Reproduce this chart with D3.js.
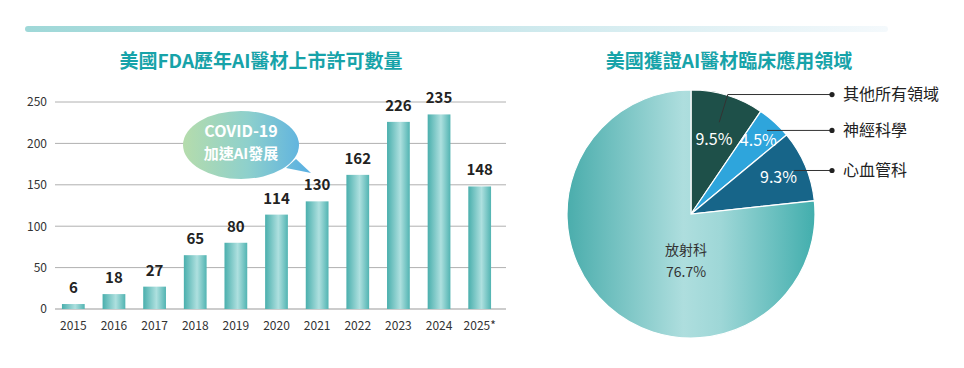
<!DOCTYPE html>
<html>
<head>
<meta charset="utf-8" />
<title>美國FDA AI醫材</title>
<script src="https://d3js.org/d3.v7.min.js"></script>
<style>
    body { margin: 0; background: #fff; }
    svg text { font-family: "Noto Sans CJK TC", "Noto Sans", sans-serif; }
</style>
</head>
<body>
<svg id="chart" width="964" height="368"></svg>
<script>
// bar chart data
var years = ["2015", "2016", "2017", "2018", "2019", "2020", "2021", "2022", "2023", "2024", "2025*"];
var approvals = [6, 18, 27, 65, 80, 114, 130, 162, 226, 235, 148];
var yTicks = [0, 50, 100, 150, 200, 250];

// pie data
var fields = ["其他所有領域", "神經科學", "心血管科", "放射科"];
var shares = [9.5, 4.5, 9.3, 76.7];
var pieColors = ["#1e5049", "#2ea5dc", "#176589", "url(#radGrad)"];

var svg = d3.select("#chart");
var defs = svg.append("defs");

function addGrad(id, stops, attrs) {
    var g = defs.append("linearGradient").attr("id", id);
    for (var k in attrs) g.attr(k, attrs[k]);
    stops.forEach(function(s) {
        g.append("stop").attr("offset", s[0]).attr("stop-color", s[1]);
    });
}

var cx = 691, cy = 214, radius = 124;

addGrad("topGrad", [[0, "#9fd8d8"], [0.5, "#c6e6ea"], [1, "#f4f9fc"]], {});
addGrad("barGrad", [[0, "#4aafad"], [0.58, "#aee0df"], [1, "#52b4b2"]], {});
addGrad("bubbleGrad", [[0, "#b5dcac"], [0.5, "#8ed0cc"], [1, "#57aee3"]],
    {gradientUnits: "userSpaceOnUse", x1: 183, x2: 312, y1: 0, y2: 0});
// pie group is translated to the centre, so the gradient runs -r..r
addGrad("radGrad", [[0, "#4aadac"], [0.47, "#aedede"], [0.62, "#9ed7d7"], [1, "#42aead"]],
    {gradientUnits: "userSpaceOnUse", x1: -radius, x2: radius, y1: 0, y2: 0});

// top decorative strip
svg.append("rect")
    .attr("x", 25).attr("y", 26).attr("width", 863).attr("height", 6)
    .attr("rx", 3)
    .attr("fill", "url(#topGrad)");

// titles
svg.append("text")
    .attr("x", 261).attr("y", 61).attr("dy", "0.35em")
    .attr("text-anchor", "middle")
    .attr("fill", "#17a3a9").attr("font-size", 19).attr("font-weight", "bold")
    .text("美國FDA歷年AI醫材上市許可數量");

svg.append("text")
    .attr("x", 729).attr("y", 61).attr("dy", "0.35em")
    .attr("text-anchor", "middle")
    .attr("fill", "#17a3a9").attr("font-size", 19).attr("font-weight", "bold")
    .text("美國獲證AI醫材臨床應用領域");

// ---------- bar chart ----------
var x = d3.scaleBand()
    .domain(years)
    .range([53, 500])
    .paddingInner(0.44)
    .paddingOuter(0.22);

var y = d3.scaleLinear()
    .domain([0, 250])
    .range([309, 102]);

var grid = svg.append("g");
grid.selectAll("line")
    .data(yTicks)
    .enter()
    .append("line")
    .attr("x1", 55).attr("x2", 506)
    .attr("y1", function(d) { return y(d); })
    .attr("y2", function(d) { return y(d); })
    .attr("stroke", function(d) { return d === 0 ? "#999" : "#b0b0b0"; })
    .attr("stroke-width", 1);

var yAxis = d3.axisLeft(y).tickValues(yTicks).tickSize(0).tickPadding(0);
var yg = svg.append("g").attr("transform", "translate(47,0)").call(yAxis);
yg.select(".domain").remove();
yg.selectAll("text").attr("font-size", 12).attr("fill", "#333");

var xAxis = d3.axisBottom(x).tickSize(0).tickPadding(0);
var xg = svg.append("g").attr("transform", "translate(0,321)").call(xAxis);
xg.select(".domain").remove();
xg.selectAll("text").attr("font-size", 12).attr("fill", "#333");

svg.selectAll(".bar")
    .data(approvals)
    .enter()
    .append("rect")
    .attr("class", "bar")
    .attr("x", function(d, i) { return x(years[i]); })
    .attr("width", x.bandwidth())
    .attr("y", function(d) { return y(d); })
    .attr("height", function(d) { return y(0) - y(d); })
    .attr("fill", "url(#barGrad)");

svg.selectAll(".val")
    .data(approvals)
    .enter()
    .append("text")
    .attr("class", "val")
    .attr("x", function(d, i) { return x(years[i]) + x.bandwidth() / 2; })
    .attr("y", function(d) { return y(d) - 11; })
    .attr("text-anchor", "middle")
    .attr("font-size", 15).attr("font-weight", "bold").attr("fill", "#222")
    .text(function(d) { return d; });

// speech bubble
var bubble = svg.append("g");
bubble.append("path")
    .attr("d", "M286,168 L311,173 L296,159 Z")
    .attr("fill", "url(#bubbleGrad)");
bubble.append("ellipse")
    .attr("cx", 241).attr("cy", 145).attr("rx", 58).attr("ry", 34)
    .attr("fill", "url(#bubbleGrad)");
bubble.append("text")
    .attr("x", 241).attr("y", 137)
    .attr("text-anchor", "middle").attr("fill", "#fff")
    .attr("font-size", 16).attr("font-weight", "bold")
    .text("COVID-19");
bubble.append("text")
    .attr("x", 241).attr("y", 159)
    .attr("text-anchor", "middle").attr("fill", "#fff")
    .attr("font-size", 15).attr("font-weight", "bold")
    .text("加速AI發展");

// ---------- pie chart ----------
var pie = d3.pie().sort(null).value(function(d) { return d; });
var arcs = pie(shares);
var arc = d3.arc().innerRadius(0).outerRadius(radius);

var pg = svg.append("g").attr("transform", "translate(" + cx + "," + cy + ")");

pg.selectAll("path")
    .data(arcs)
    .enter()
    .append("path")
    .attr("d", arc)
    .attr("fill", function(d, i) { return pieColors[i]; })
    .attr("stroke", "#fff")
    .attr("stroke-width", 1.2);

function mid(d) { return (d.startAngle + d.endAngle) / 2; }

// percentage labels inside the small slices
var labelR = [78, 100, 95];
arcs.slice(0, 3).forEach(function(d, i) {
    var p = d3.pointRadial(mid(d), labelR[i]);
    pg.append("text")
        .attr("x", p[0]).attr("y", p[1]).attr("dy", "0.35em")
        .attr("text-anchor", "middle")
        .attr("fill", "#fff").attr("font-size", 16)
        .text(shares[i] + "%");
});

// radiology label
pg.append("text")
    .attr("x", -5).attr("y", 36).attr("dy", "0.35em")
    .attr("text-anchor", "middle").attr("fill", "#333").attr("font-size", 14)
    .text(fields[3]);
pg.append("text")
    .attr("x", -5).attr("y", 58).attr("dy", "0.35em")
    .attr("text-anchor", "middle").attr("fill", "#333").attr("font-size", 14)
    .text(shares[3] + "%");

// leader lines and labels
var leaderIn = [96, 113, 112];
var leaderOut = [125, null, null];
var leaderEnd = 141; // x of dot, relative to pie center
arcs.slice(0, 3).forEach(function(d, i) {
    var a = mid(d);
    var p0 = d3.pointRadial(a, leaderIn[i]);
    var pts = [p0];
    if (leaderOut[i]) pts.push(d3.pointRadial(a, leaderOut[i]));
    var last = pts[pts.length - 1];
    pts.push([leaderEnd, last[1]]);
    pg.append("path")
        .attr("d", d3.line()(pts))
        .attr("fill", "none").attr("stroke", "#333").attr("stroke-width", 1);
    pg.append("circle")
        .attr("cx", leaderEnd).attr("cy", last[1]).attr("r", 2.6)
        .attr("fill", "#222");
    pg.append("text")
        .attr("x", leaderEnd + 11).attr("y", last[1]).attr("dy", "0.35em")
        .attr("fill", "#222").attr("font-size", 16)
        .text(fields[i]);
});
</script>
</body>
</html>
